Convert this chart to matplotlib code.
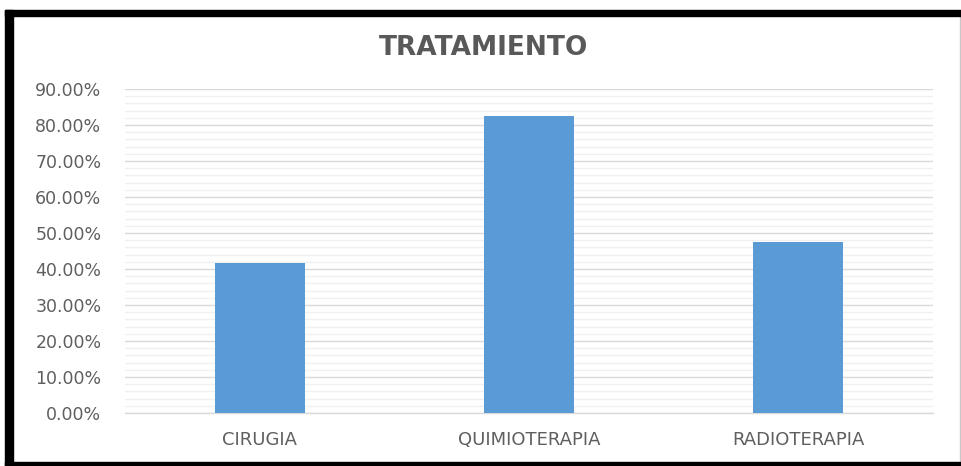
import matplotlib
matplotlib.use("Agg")
import matplotlib.pyplot as plt
from matplotlib.ticker import MultipleLocator, FuncFormatter
from matplotlib.patches import Rectangle
from matplotlib.lines import Line2D

categories = ["CIRUGIA", "QUIMIOTERAPIA", "RADIOTERAPIA"]
values = [41.7, 82.5, 47.4]
title = "TRATAMIENTO"

plt.rcParams["font.family"] = ["DejaVu Sans"]

W, H = 961, 466
fig = plt.figure(figsize=(W / 100, H / 100), dpi=100)

def fx(px):
    return px / W

def fy(py):
    return (H - py) / H

ax = fig.add_axes([fx(125), fy(413), fx(933) - fx(125), fy(89) - fy(413)])
x = range(len(categories))
ax.bar(x, values, width=0.334, color="#5B9BD5", zorder=3)
ax.set_xlim(-0.5, 2.5)
ax.set_ylim(0, 90)
ax.yaxis.set_major_locator(MultipleLocator(10))
ax.yaxis.set_minor_locator(MultipleLocator(2))
ax.yaxis.set_major_formatter(FuncFormatter(lambda v, p: f"{v:.2f}%"))
ax.set_xticks(list(x))
ax.set_xticklabels(categories)
ax.grid(axis="y", which="major", color="#d9d9d9", linewidth=1.0, zorder=0)
ax.grid(axis="y", which="minor", color="#f0f0f0", linewidth=1.0, zorder=0)
for s in ["top", "right", "left"]:
    ax.spines[s].set_visible(False)
ax.spines["bottom"].set_color("#d9d9d9")
ax.spines["bottom"].set_linewidth(1.0)
ax.tick_params(axis="both", which="both", length=0)
ax.tick_params(axis="y", pad=17, labelsize=12.5, labelcolor="#5f5f5f")
ax.tick_params(axis="x", pad=13, labelsize=13, labelcolor="#5f5f5f")

fig.text(fx(484), fy(48), title, ha="center", va="center",
         fontsize=19, fontweight="bold", color="#595959")

# frame
fig.patches.append(Rectangle((fx(5), fy(16)), fx(961) - fx(5), fy(10) - fy(16),
                             transform=fig.transFigure, color="black", zorder=10))
fig.patches.append(Rectangle((fx(5), fy(466)), fx(13) - fx(5), fy(10) - fy(466),
                             transform=fig.transFigure, color="black", zorder=10))
fig.patches.append(Rectangle((fx(5), fy(466)), fx(961) - fx(5), fy(462) - fy(466),
                             transform=fig.transFigure, color="black", zorder=10))
fig.lines.append(Line2D([fx(959.5), fx(959.5)], [fy(16), fy(462)],
                        transform=fig.transFigure, color="#c8c8c8", linewidth=1.0))

fig.savefig("out.png", dpi=100)
